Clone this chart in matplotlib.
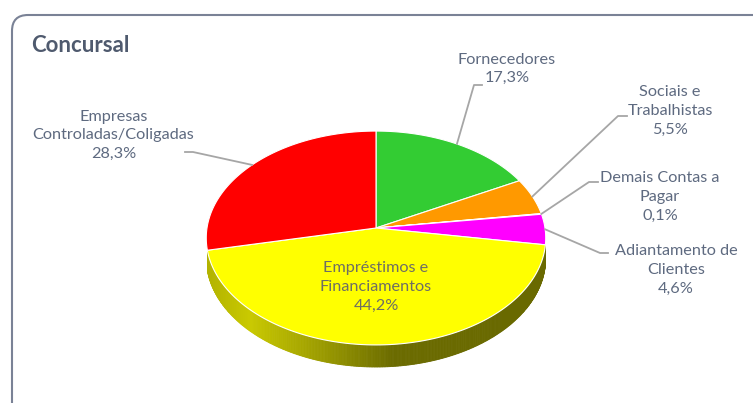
import numpy as np
import matplotlib
matplotlib.use('Agg')
import matplotlib.pyplot as plt
from matplotlib.patches import Polygon, FancyBboxPatch

# dados
categorias = ['Fornecedores', 'Sociais e\nTrabalhistas', 'Demais Contas a\nPagar',
              'Adiantamento de\nClientes', 'Empréstimos e\nFinanciamentos',
              'Empresas\nControladas/Coligadas']
valores = [17.3, 5.5, 0.1, 4.6, 44.2, 28.3]
rotulos_pct = ['17,3%', '5,5%', '0,1%', '4,6%', '44,2%', '28,3%']
cores = ['#33CC33', '#FF9900', '#7F7FFF', '#FF00FF', '#FFFF00', '#FF0000']

# layout (pixels)
cx, cy = 376, 228
R, Ry, p, h = 169, 106, 0.0935, 20
lat_min, lat_max = -167.5, -9   # trecho visivel da lateral
pos_txt = [(507, 69), (670, 111), (660, 197), (676, 270), (376, 287), (113.5, 135.5)]
cotovelo = [((474, 85), (482, 85)), ((618, 116), (627, 116)), ((589, 182), (598, 182)),
            ((600, 253), (608, 253)), None, ((193, 152), (185, 152))]

cor_txt = '#5E6A80'


def proj(th, z=0.0):
    t = np.radians(th)
    k = 1.0 / (1 + p * np.sin(t))
    return cx + R * np.cos(t) * k, cy - Ry * np.sin(t) * k + z * h * k


def sombra(x):
    u = (x - cx) / R
    return np.interp(u, [-1, -0.75, -0.35, 0.1, 1], [0.70, 0.79, 0.62, 0.42, 0.41])


fig = plt.figure(figsize=(7.53, 4.03), dpi=100)
ax = fig.add_axes([0, 0, 1, 1])
ax.set_xlim(0, 753)
ax.set_ylim(403, 0)
ax.axis('off')

caixa = FancyBboxPatch((12, 15), 780, 440, boxstyle='round,pad=0,rounding_size=16',
                       fc='white', ec='#7A8296', lw=1.5)
ax.add_patch(caixa)
ax.text(31, 46, 'Concursal', fontsize=16, fontweight='bold', color='#4F5A6E',
        family='Lato', va='center', ha='left')

# angulos das fatias (sentido horario a partir do topo)
total = sum(valores)
limites = 90 - 360 * np.concatenate([[0], np.cumsum(valores)]) / total

# lateral
for i in range(len(valores)):
    a0 = min(limites[i], lat_max)
    a1 = max(limites[i + 1], lat_min)
    if a0 <= a1:
        continue
    n = max(2, int(abs(a0 - a1) * 2))
    ths = np.linspace(a0, a1, n + 1)
    base = np.array(matplotlib.colors.to_rgb(cores[i]))
    for j in range(n):
        ta, tb = ths[j], ths[j + 1]
        xa, ya = proj(ta)
        xb, yb = proj(tb)
        xa2, ya2 = proj(ta, 1)
        xb2, yb2 = proj(tb, 1)
        c = base * sombra((xa + xb) / 2)
        ax.add_patch(Polygon([(xa, ya), (xb, yb), (xb2, yb2), (xa2, ya2)],
                             closed=True, fc=c, ec=c, lw=0.6))

# topo
for i in range(len(valores)):
    ths = np.linspace(limites[i], limites[i + 1], 200)
    xs, ys = proj(ths)
    pts = [(cx, cy)] + list(zip(xs, ys))
    ax.add_patch(Polygon(pts, closed=True, fc=cores[i], ec='white', lw=0.8))

# rotulos
for i in range(len(valores)):
    txt = categorias[i] + '\n' + rotulos_pct[i]
    cor = '#6E6E64' if cotovelo[i] is None else cor_txt
    ax.text(pos_txt[i][0], pos_txt[i][1], txt, ha='center', va='center',
            fontsize=11.7, color=cor, family='Lato', linespacing=1.42)
    if cotovelo[i] is not None:
        meio = (limites[i] + limites[i + 1]) / 2
        x0, y0 = proj(meio)
        (x1, y1), (x2, y2) = cotovelo[i]
        ax.plot([x0, x1, x2], [y0, y1, y2], color='#A6A6A6', lw=1.3)

fig.savefig('out.png', dpi=100)
